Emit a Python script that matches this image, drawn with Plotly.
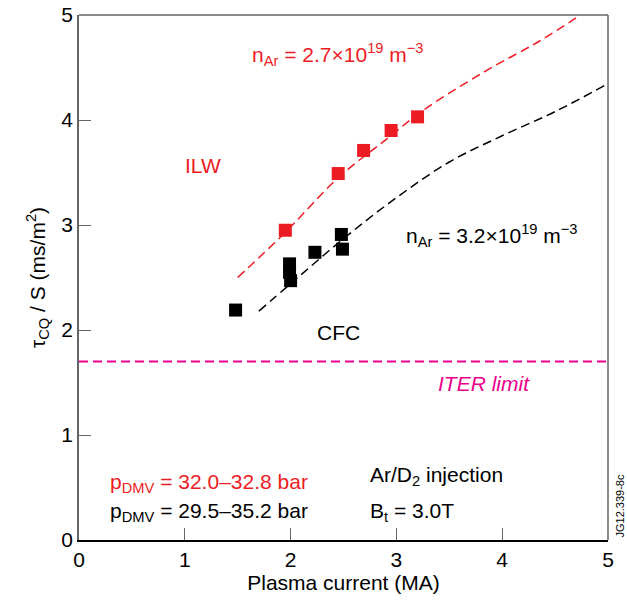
import plotly.graph_objects as go

# ILW (red) data points
ilw_current = [1.95, 2.45, 2.69, 2.95, 3.20]
ilw_tau = [2.95, 3.49, 3.71, 3.90, 4.03]

# CFC (black) data points
cfc_current = [1.48, 1.99, 1.99, 2.00, 2.23, 2.48, 2.49]
cfc_tau = [2.19, 2.63, 2.55, 2.47, 2.74, 2.91, 2.77]

# dashed fit curves
ilw_fit_x = [1.50, 1.95, 2.45, 2.91, 3.25, 3.85, 4.35, 4.74]
ilw_fit_y = [2.50, 2.93, 3.45, 3.82, 4.09, 4.47, 4.75, 5.00]
cfc_fit_x = [1.70, 2.00, 2.50, 3.00, 3.50, 4.00, 4.50, 4.97]
cfc_fit_y = [2.18, 2.44, 2.87, 3.26, 3.60, 3.85, 4.08, 4.33]

iter_limit = 1.7
x_ticks = [0, 1, 2, 3, 4, 5]
y_ticks = [0, 1, 2, 3, 4, 5]

RED = "#ED1C24"
MAG = "#EC008C"
FONT = "Liberation Sans, Arial, sans-serif"
TXT = 21

fig = go.Figure()
fig.add_trace(go.Scatter(x=ilw_fit_x, y=ilw_fit_y, mode="lines", line=dict(color=RED, width=1.5, dash="9px,5px", shape="spline"), showlegend=False, hoverinfo="skip"))
fig.add_trace(go.Scatter(x=cfc_fit_x, y=cfc_fit_y, mode="lines", line=dict(color="black", width=1.5, dash="9px,5px", shape="spline"), showlegend=False, hoverinfo="skip"))
fig.add_trace(go.Scatter(x=[0, 5], y=[iter_limit, iter_limit], mode="lines", line=dict(color=MAG, width=2, dash="9px,5px"), showlegend=False, hoverinfo="skip"))
fig.add_trace(go.Scatter(x=cfc_current, y=cfc_tau, mode="markers", marker=dict(symbol="square", size=13, color="black"), showlegend=False))
fig.add_trace(go.Scatter(x=ilw_current, y=ilw_tau, mode="markers", marker=dict(symbol="square", size=13, color=RED), showlegend=False))

def ann(x, y, text, color="black", anchor="left", italic=False, size=TXT):
    t = f"<i>{text}</i>" if italic else text
    fig.add_annotation(x=x, y=y, xref="x", yref="y", text=t, showarrow=False,
                       xanchor=anchor, yanchor="middle", font=dict(color=color, size=size, family=FONT))

ann(1.62, 4.62, "n<sub>Ar</sub> = 2.7×10<sup>19</sup> m<sup>−3</sup>", RED)
ann(0.98, 3.57, "ILW", RED)
ann(3.07, 2.90, "n<sub>Ar</sub> = 3.2×10<sup>19</sup> m<sup>−3</sup>")
ann(2.45, 1.98, "CFC", anchor="center")
ann(3.83, 1.49, "ITER limit", MAG, anchor="center", italic=True)
ann(0.27, 0.54, "p<sub>DMV</sub> = 32.0–32.8 bar", RED)
ann(0.27, 0.27, "p<sub>DMV</sub> = 29.5–35.2 bar")
ann(2.73, 0.61, "Ar/D<sub>2</sub> injection")
ann(2.73, 0.27, "B<sub>t</sub> = 3.0T")

fig.add_annotation(x=1.0, y=0.0, xref="paper", yref="paper", text="JG12.339-8c", showarrow=False,
                   textangle=-90, xanchor="left", yanchor="bottom", xshift=3,
                   font=dict(size=11, color="black", family=FONT))

# top and right frame lines (grey)
fig.add_shape(type="line", xref="x domain", yref="y domain", x0=0, x1=1, y0=1, y1=1, line=dict(color="#666666", width=1.5))
fig.add_shape(type="line", xref="x domain", yref="y domain", x0=1, x1=1, y0=0, y1=1, line=dict(color="#666666", width=1.5))

fig.update_layout(
    width=627, height=602,
    margin=dict(l=79, r=19, t=15, b=62),
    plot_bgcolor="white", paper_bgcolor="white",
    font=dict(family=FONT, size=TXT, color="black"),
    xaxis=dict(range=[0, 5], tickvals=x_ticks, ticks="inside", ticklen=12, tickcolor="#666666", tickwidth=1.2,
               showline=True, linecolor="black", linewidth=1.5, showgrid=False, zeroline=False, automargin=False,
               tickfont=dict(size=21), title=dict(text="Plasma current (MA)", font=dict(size=TXT), standoff=4)),
    yaxis=dict(range=[0, 5], tickvals=y_ticks, ticks="inside", ticklen=12, tickcolor="#666666", tickwidth=1.2,
               showline=True, linecolor="#666666", linewidth=1.5, showgrid=False, zeroline=False, automargin=False,
               ticklabeloverflow="allow",
               tickfont=dict(size=21), title=dict(text="τ<sub>CQ</sub> / S (ms/m<sup>2</sup>)", font=dict(size=TXT), standoff=10)),
)

fig.write_html("out.html", config={"displayModeBar": False},
               post_script="document.body.style.margin='0px';document.body.style.overflow='hidden';")
